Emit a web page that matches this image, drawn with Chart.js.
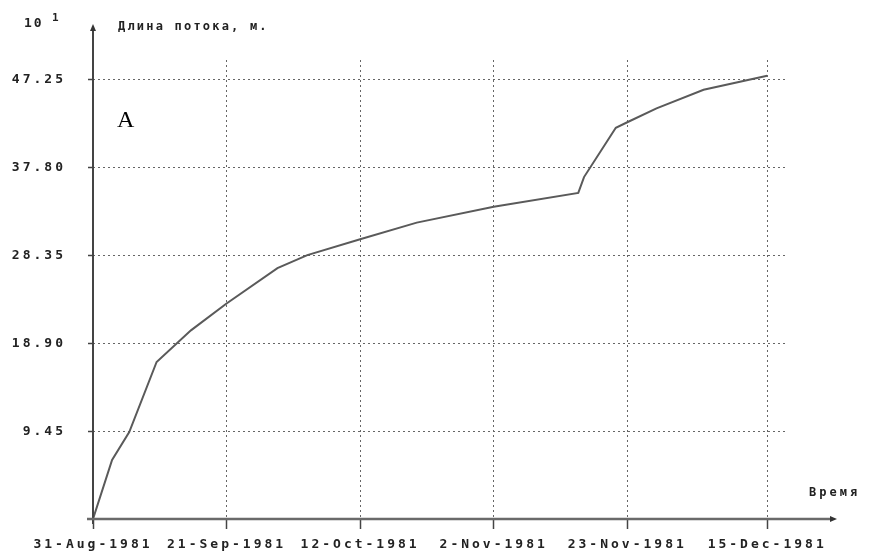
<!DOCTYPE html>
<html>
<head>
<meta charset="utf-8">
<script src="https://cdn.jsdelivr.net/npm/chart.js@4/dist/chart.umd.min.js"></script>
<style>
html,body{margin:0;padding:0;background:#fff;}
#wrap{width:869px;height:551px;position:relative;}
</style>
</head>
<body>
<div id="wrap"><canvas id="c" width="869" height="551"></canvas></div>
<script>
// ---- data ----
const dateLabels = ['31-Aug-1981','21-Sep-1981','12-Oct-1981','2-Nov-1981','23-Nov-1981','15-Dec-1981'];
const dateDays = [0, 21, 42, 63, 84, 106];           // days since 31-Aug-1981
const yTickValues = [9.45, 18.90, 28.35, 37.80, 47.25];
const dayValues = [0, 3, 5.7, 10, 15.4, 21, 29, 33.7, 42, 50.9, 63, 76.3, 77.2, 82.2, 84, 88.6, 96, 106];
const lengthValues = [0, 6.35, 9.36, 16.9, 20.3, 23.2, 27.0, 28.4, 30.1, 31.9, 33.6, 35.1, 36.8, 42.1, 42.7, 44.2, 46.2, 47.7];
const yAxisTitle = 'Длина потока, м.';
const xAxisTitle = 'Время';
const scaleNote = ['10', '1'];
const panelLabel = 'A';

const points = dayValues.map((d, i) => ({x: d, y: lengthValues[i]}));
const monoFont = {family: '"DejaVu Sans Mono", monospace', size: 13, weight: 'bold'};
const SPACING = '3px';

const decor = {
  id: 'decor',
  beforeDraw(chart) { chart.ctx.letterSpacing = SPACING; },
  afterDraw(chart) {
    const ctx = chart.ctx;
    const x0 = chart.scales.x.getPixelForValue(0);
    const y0 = chart.scales.y.getPixelForValue(0);
    ctx.save();
    // y axis with arrow
    ctx.strokeStyle = '#444'; ctx.lineWidth = 2;
    ctx.beginPath(); ctx.moveTo(x0, y0 + 5); ctx.lineTo(x0, 29); ctx.stroke();
    ctx.fillStyle = '#333';
    ctx.beginPath(); ctx.moveTo(x0, 24); ctx.lineTo(x0 - 3, 31); ctx.lineTo(x0 + 3, 31); ctx.closePath(); ctx.fill();
    // x axis with arrow
    ctx.strokeStyle = '#6a6a6a'; ctx.lineWidth = 2.5;
    ctx.beginPath(); ctx.moveTo(x0 - 6, y0); ctx.lineTo(832, y0); ctx.stroke();
    ctx.fillStyle = '#333';
    ctx.beginPath(); ctx.moveTo(837, y0); ctx.lineTo(830, y0 - 3); ctx.lineTo(830, y0 + 3); ctx.closePath(); ctx.fill();

    // texts
    ctx.fillStyle = '#222';
    ctx.textBaseline = 'middle';
    ctx.textAlign = 'left';
    ctx.letterSpacing = '2px';
    ctx.font = 'bold 13px "DejaVu Sans Mono", monospace';
    ctx.fillText(scaleNote[0], 24, 24);
    ctx.font = 'bold 11px "DejaVu Sans Mono", monospace';
    ctx.fillText(scaleNote[1], 52, 18);
    ctx.letterSpacing = '2.2px';
    ctx.font = 'bold 12px "DejaVu Sans Mono", monospace';
    ctx.fillText(yAxisTitle, 118, 27);
    ctx.letterSpacing = '3px';
    ctx.fillText(xAxisTitle, 809, 493);
    ctx.letterSpacing = '0px';
    ctx.fillStyle = '#000';
    ctx.font = '24px "Liberation Serif", serif';
    ctx.fillText(panelLabel, 117, 121);
    ctx.restore();
  }
};

new Chart(document.getElementById('c'), {
  type: 'line',
  data: {
    datasets: [{
      data: points,
      borderColor: '#5a5a5a',
      borderWidth: 2,
      pointRadius: 0,
      tension: 0,
      fill: false
    }]
  },
  options: {
    responsive: false,
    animation: false,
    events: [],
    layout: {padding: {top: 60, right: 84, left: 0, bottom: 0}},
    plugins: {legend: {display: false}, tooltip: {enabled: false}, title: {display: false}},
    scales: {
      x: {
        type: 'linear',
        min: 0,
        max: 108.8,
        afterBuildTicks: s => { s.ticks = dateDays.map(v => ({value: v})); },
        afterFit: s => { s.height = 32; },
        ticks: {
          autoSkip: false,
          maxRotation: 0,
          padding: 8,
          color: '#222',
          font: monoFont,
          callback: v => dateLabels[dateDays.indexOf(v)]
        },
        grid: {color: '#666', lineWidth: 1, tickLength: 10, tickColor: '#444', tickWidth: 1.5},
        border: {display: false, dash: [2, 3]}
      },
      y: {
        min: 0,
        max: 49.4,
        afterBuildTicks: s => { s.ticks = yTickValues.map(v => ({value: v})); },
        afterFit: s => { s.width = 93; },
        ticks: {
          padding: 22,
          color: '#222',
          font: monoFont,
          callback: v => Number(v).toFixed(2)
        },
        grid: {color: '#666', lineWidth: 1, tickLength: 5, tickColor: '#444', tickWidth: 1.5},
        border: {display: false, dash: [2, 3]}
      }
    }
  },
  plugins: [decor]
});
</script>
</body>
</html>
